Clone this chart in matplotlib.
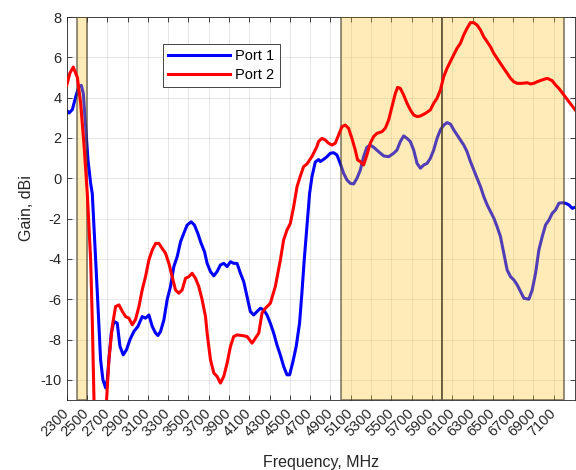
import numpy as np
import matplotlib.pyplot as plt

plt.rcParams['font.family'] = ['Liberation Sans', 'DejaVu Sans']
plt.rcParams['axes.unicode_minus'] = False

# Port 1 (blue) - frequency in MHz, gain in dBi
f_port1 = [2300, 2323, 2356, 2388, 2421, 2444, 2464, 2487, 2510, 2536, 2552, 2569,
           2585, 2602, 2618, 2634, 2657, 2684, 2700, 2716, 2739, 2766, 2798, 2825,
           2857, 2890, 2923, 2962, 3002, 3044, 3077, 3110, 3143, 3176, 3199, 3225,
           3258, 3290, 3323, 3356, 3389, 3422, 3454, 3487, 3527, 3559, 3592, 3625,
           3658, 3684, 3717, 3750, 3782, 3815, 3848, 3881, 3914, 3946, 3979, 4012,
           4045, 4078, 4110, 4143, 4176, 4209, 4242, 4274, 4307, 4340, 4372, 4405,
           4438, 4471, 4497, 4530, 4562, 4595, 4618, 4641, 4668, 4694, 4717, 4750,
           4783, 4799, 4832, 4865, 4898, 4930, 4963, 4996, 5029, 5062, 5095, 5128,
           5161, 5194, 5226, 5259, 5292, 5325, 5374, 5424, 5473, 5522, 5555, 5588,
           5621, 5654, 5687, 5720, 5753, 5786, 5819, 5852, 5884, 5917, 5950, 5983,
           6016, 6049, 6082, 6115, 6148, 6180, 6213, 6246, 6279, 6312, 6345, 6378,
           6411, 6444, 6477, 6510, 6542, 6575, 6608, 6641, 6674, 6707, 6740, 6773,
           6806, 6855, 6888, 6921, 6954, 6987, 7020, 7053, 7085, 7118, 7151, 7184,
           7217, 7250, 7283, 7310]
g_port1 = [3.37, 3.24, 3.41, 4.03, 4.56, 4.61, 4.2, 2.55, 0.9, -0.26, -0.75, -2.4,
           -4.05, -5.7, -7.35, -9.0, -10.0, -10.4, -10.0, -9.0, -7.68, -7.1, -7.19, -8.34,
           -8.76, -8.5, -8.01, -7.6, -7.35, -6.86, -6.94, -6.78, -7.35, -7.68, -7.8, -7.6,
           -7.02, -6.03, -5.37, -4.38, -3.89, -3.15, -2.73, -2.32, -2.16, -2.32, -2.73, -3.23,
           -3.64, -4.22, -4.63, -4.84, -4.63, -4.3, -4.22, -4.38, -4.14, -4.22, -4.22, -4.71,
           -5.13, -5.87, -6.61, -6.78, -6.61, -6.45, -6.53, -6.78, -7.19, -7.68, -8.26, -8.76,
           -9.33, -9.75, -9.75, -9.09, -8.34, -7.19, -5.7, -4.05, -2.4, -0.75, 0.07, 0.81,
           0.93, 0.83, 0.94, 1.07, 1.24, 1.27, 1.16, 0.74, 0.25, -0.08, -0.25, -0.28,
           0.0, 0.41, 1.07, 1.54, 1.65, 1.54, 1.32, 1.11, 1.07, 1.24, 1.4, 1.82,
           2.1, 1.98, 1.82, 1.4, 0.74, 0.5, 0.66, 0.74, 0.99, 1.4, 1.98, 2.4,
           2.64, 2.76, 2.69, 2.4, 2.15, 1.9, 1.65, 1.32, 0.83, 0.41, 0.0, -0.41,
           -0.91, -1.32, -1.65, -1.98, -2.4, -2.89, -3.72, -4.55, -4.88, -5.04, -5.29, -5.62,
           -5.95, -6.0, -5.54, -4.71, -3.55, -2.89, -2.31, -2.07, -1.74, -1.57, -1.24, -1.21,
           -1.24, -1.32, -1.49, -1.44]

# Port 2 (red)
f_port2 = [2300, 2330, 2365, 2405, 2438, 2470, 2503, 2536, 2552, 2569, 2600, 2650,
           2693, 2716, 2749, 2782, 2815, 2848, 2880, 2913, 2946, 2979, 3012, 3044,
           3077, 3110, 3143, 3176, 3208, 3241, 3274, 3307, 3340, 3372, 3405, 3438,
           3471, 3504, 3536, 3569, 3602, 3635, 3668, 3684, 3717, 3750, 3782, 3815,
           3848, 3881, 3914, 3946, 3979, 4028, 4078, 4127, 4160, 4193, 4225, 4258,
           4307, 4356, 4406, 4438, 4471, 4504, 4537, 4570, 4602, 4635, 4668, 4716,
           4766, 4782, 4815, 4848, 4881, 4914, 4947, 4980, 5013, 5045, 5078, 5111,
           5144, 5167, 5193, 5226, 5259, 5292, 5325, 5358, 5407, 5440, 5473, 5506,
           5539, 5562, 5588, 5621, 5654, 5687, 5720, 5753, 5786, 5835, 5884, 5917,
           5950, 5983, 6016, 6048, 6081, 6114, 6147, 6180, 6213, 6246, 6279, 6312,
           6345, 6378, 6410, 6443, 6476, 6509, 6542, 6575, 6608, 6641, 6674, 6707,
           6739, 6789, 6839, 6871, 6904, 6937, 6987, 7036, 7085, 7118, 7151, 7200,
           7250, 7310]
g_port2 = [4.61, 5.2, 5.52, 5.0, 3.7, 1.7, -0.75, -4.05, -7.0, -11.0, -13.0, -13.0,
           -11.0, -9.0, -7.35, -6.36, -6.28, -6.6, -6.86, -6.94, -7.27, -7.0, -6.36, -5.54,
           -4.88, -4.05, -3.56, -3.23, -3.23, -3.48, -3.72, -4.22, -4.88, -5.54, -5.7, -5.54,
           -4.96, -4.88, -4.71, -4.96, -5.37, -6.03, -6.86, -7.68, -9.0, -9.66, -9.83, -10.16,
           -9.83, -9.17, -8.34, -7.85, -7.77, -7.8, -7.85, -8.18, -7.93, -7.68, -6.69, -6.45,
           -6.2, -5.37, -4.05, -3.06, -2.57, -2.24, -1.41, -0.42, 0.1, 0.58, 0.71, 1.07,
           1.57, 1.82, 1.98, 1.9, 1.74, 1.65, 1.74, 2.15, 2.56, 2.64, 2.48, 1.98,
           1.4, 0.91, 0.83, 0.66, 1.16, 1.74, 2.07, 2.23, 2.31, 2.48, 2.89, 3.55,
           4.21, 4.51, 4.46, 4.13, 3.72, 3.39, 3.14, 3.06, 3.09, 3.22, 3.39, 3.72,
           3.97, 4.38, 5.04, 5.45, 5.79, 6.12, 6.45, 6.69, 7.11, 7.44, 7.72, 7.72,
           7.6, 7.36, 7.02, 6.78, 6.53, 6.2, 5.95, 5.7, 5.45, 5.21, 4.96, 4.79,
           4.71, 4.71, 4.74, 4.68, 4.71, 4.79, 4.88, 4.96, 4.84, 4.63, 4.46, 4.13,
           3.8, 3.4]

# highlighted bands (MHz)
bands = [(2400, 2500), (5000, 6000), (6000, 7200)]

xticks = np.arange(2300, 7101, 200)
yticks = np.arange(-10, 9, 2)

fig = plt.figure(figsize=(5.76, 4.70), dpi=100)
ax = fig.add_axes([0.1158, 0.1489, 0.8825, 0.8149])

# blue sits under the bands, red on top of them
ax.plot(f_port1, g_port1, color=(0, 0, 1), lw=2.2, label='Port 1', zorder=2)
ax.plot(f_port2, g_port2, color=(1, 0, 0), lw=2.2, label='Port 2', zorder=3.5)

for lo, hi in bands:
    ax.axvspan(lo, hi, facecolor=(1, 0.76, 0.12, 0.32),
               edgecolor=(0.25, 0.22, 0.15, 0.6), lw=1.3, zorder=3)

ax.set_xlim(2300, 7310)
ax.set_ylim(-11, 8)
ax.set_xticks(xticks)
ax.set_yticks(yticks)
ax.set_xticklabels([str(t) for t in xticks], rotation=45, ha='right', va='center',
                   rotation_mode='anchor')
ax.tick_params(direction='in', length=3.5, top=True, right=True, labelsize=10.5,
               colors=(0.15, 0.15, 0.15), width=0.6)
ax.tick_params(axis='x', pad=8)
ax.grid(True, color=(0.15, 0.15, 0.15), alpha=0.13, lw=0.6, zorder=4)
ax.set_axisbelow(False)
for s in ax.spines.values():
    s.set_color((0.15, 0.15, 0.15))
    s.set_linewidth(0.6)

ax.set_xlabel('Frequency, MHz', fontsize=11.5, color=(0.15, 0.15, 0.15), labelpad=11)
ax.set_ylabel('Gain, dBi', fontsize=11.5, color=(0.15, 0.15, 0.15), labelpad=5)

leg = ax.legend(loc='upper left', bbox_to_anchor=(0.19, 0.93), fontsize=10.5,
                fancybox=False, framealpha=1, edgecolor=(0.15, 0.15, 0.15),
                handlelength=4.2, borderpad=0.35, labelspacing=0.35, handletextpad=0.4,
                borderaxespad=0)
leg.get_frame().set_linewidth(0.6)
leg.set_zorder(5)

fig.savefig('out.png', dpi=100)
